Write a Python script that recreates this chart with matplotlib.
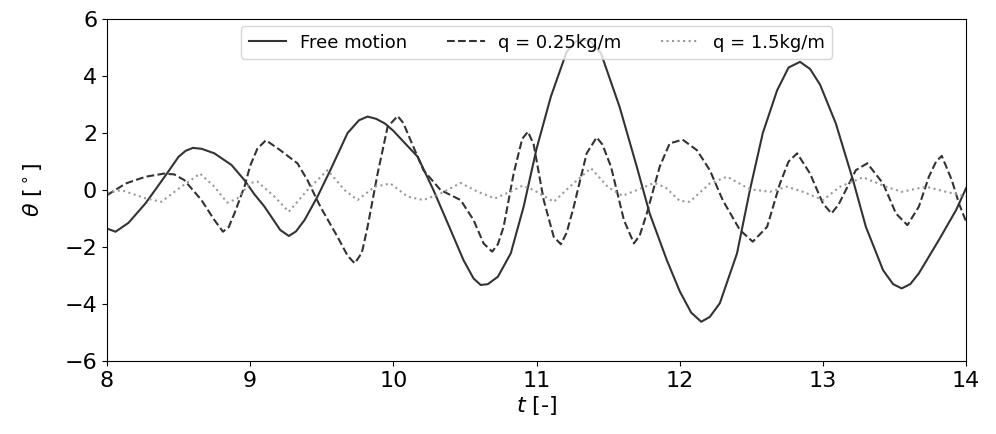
import matplotlib
matplotlib.use("Agg")
import matplotlib.pyplot as plt

# Free motion (solid)
t_free = [8.00, 8.06, 8.15, 8.27, 8.42, 8.50, 8.55, 8.60, 8.66, 8.75, 8.87, 8.96, 9.03, 9.10,
          9.21, 9.27, 9.32, 9.38, 9.47, 9.56, 9.68, 9.76, 9.82, 9.88, 9.94, 10.00,
          10.08, 10.17, 10.28, 10.40, 10.49, 10.56, 10.61, 10.66, 10.73, 10.82,
          10.91, 11.00, 11.10, 11.21, 11.27, 11.32, 11.38, 11.45, 11.58, 11.70,
          11.79, 11.91, 12.00, 12.08, 12.15, 12.21, 12.28, 12.40, 12.49, 12.58,
          12.68, 12.76, 12.84, 12.91, 12.98, 13.09, 13.21, 13.30, 13.42, 13.49,
          13.55, 13.61, 13.67, 13.81, 13.93, 14.00]
th_free = [-1.35, -1.46, -1.15, -0.46, 0.59, 1.17, 1.38, 1.48, 1.45, 1.29, 0.88, 0.35, -0.15, -0.58,
           -1.40, -1.61, -1.45, -1.05, -0.23, 0.70, 2.00, 2.45, 2.58, 2.50, 2.34, 2.08,
           1.65, 1.17, 0.00, -1.40, -2.46, -3.10, -3.33, -3.30, -3.04, -2.22,
           -0.58, 1.45, 3.28, 4.85, 5.20, 5.30, 5.20, 4.80, 2.92, 0.82,
           -0.82, -2.46, -3.55, -4.30, -4.62, -4.45, -3.97, -2.22, 0.00, 2.00,
           3.50, 4.30, 4.50, 4.25, 3.70, 2.34, 0.35, -1.29, -2.81, -3.30,
           -3.45, -3.30, -2.92, -1.75, -0.70, 0.07]

# q = 0.25 kg/m (dashed)
t_q025 = [8.00, 8.13, 8.27, 8.40, 8.47, 8.54, 8.66, 8.75, 8.81, 8.85, 8.89, 8.96,
          9.00, 9.05, 9.11, 9.21, 9.33, 9.40, 9.49, 9.61, 9.68, 9.73, 9.78, 9.82,
          9.89, 9.96, 10.03, 10.07, 10.12, 10.21, 10.33, 10.47, 10.56, 10.63, 10.69,
          10.73, 10.77, 10.84, 10.90, 10.94, 10.98, 11.05, 11.12, 11.17, 11.21,
          11.26, 11.35, 11.42, 11.46, 11.52, 11.61, 11.68, 11.72, 11.77, 11.86,
          11.93, 12.02, 12.12, 12.21, 12.30, 12.42, 12.51, 12.61, 12.70, 12.76,
          12.82, 12.91, 13.00, 13.06, 13.11, 13.16, 13.23, 13.31, 13.42, 13.51,
          13.59, 13.67, 13.74, 13.79, 13.83, 13.90, 13.95, 14.00]
th_q025 = [-0.18, 0.23, 0.47, 0.58, 0.55, 0.35, -0.35, -1.05, -1.46, -1.30, -0.82, 0.12,
           0.85, 1.45, 1.75, 1.40, 0.94, 0.35, -0.58, -1.64, -2.30, -2.57, -2.20, -1.29,
           0.58, 2.22, 2.60, 2.35, 1.75, 0.70, 0.00, -0.35, -1.05, -1.87, -2.16,
           -1.90, -1.29, 0.58, 1.80, 2.05, 1.60, -0.35, -1.64, -1.90, -1.50,
           -0.58, 1.29, 1.85, 1.60, 0.82, -1.05, -1.87, -1.60, -0.82, 0.82,
           1.64, 1.77, 1.40, 0.70, -0.35, -1.40, -1.81, -1.29, 0.23, 1.00,
           1.29, 0.58, -0.47, -0.82, -0.50, 0.00, 0.70, 0.94, 0.23, -0.82,
           -1.23, -0.58, 0.47, 1.00, 1.20, 0.35, -0.47, -1.11]

# q = 1.5 kg/m (dotted)
t_q15 = [8.00, 8.10, 8.27, 8.38, 8.52, 8.65, 8.75, 8.84, 8.91, 9.00, 9.05, 9.17,
         9.27, 9.40, 9.54, 9.66, 9.75, 9.87, 9.98, 10.10, 10.21, 10.33, 10.47,
         10.59, 10.71, 10.82, 10.90, 10.98, 11.12, 11.25, 11.38, 11.50, 11.60,
         11.70, 11.82, 11.90, 12.00, 12.07, 12.21, 12.33, 12.49, 12.63, 12.75,
         12.86, 13.00, 13.12, 13.28, 13.44, 13.55, 13.72, 13.86, 14.00]
th_q15 = [-0.10, 0.00, -0.29, -0.41, 0.12, 0.58, 0.12, -0.44, -0.30, 0.25, 0.30, -0.23,
          -0.76, 0.00, 0.70, 0.00, -0.35, 0.12, 0.23, -0.23, -0.35, -0.12, 0.25,
          -0.06, -0.29, -0.05, 0.15, 0.00, -0.41, 0.20, 0.77, 0.10, -0.20,
          0.00, 0.25, 0.10, -0.38, -0.41, 0.23, 0.47, 0.03, -0.06, 0.12,
          -0.06, -0.35, 0.12, 0.45, 0.12, -0.06, 0.12, -0.06, -0.23]

fig = plt.figure(figsize=(9.96, 4.34), dpi=100)
ax = fig.add_axes([0.1074, 0.168, 0.8626, 0.788])

ax.plot(t_free, th_free, '-', color='#333333', lw=1.5, label='Free motion')
ax.plot(t_q025, th_q025, '--', color='#333333', lw=1.5, label='q = 0.25kg/m')
ax.plot(t_q15, th_q15, ':', color='#999999', lw=1.5, label='q = 1.5kg/m')

ax.set_xlim(8, 14)
ax.set_ylim(-6, 6)
ax.set_xticks(range(8, 15))
ax.set_yticks(range(-6, 7, 2))
ax.tick_params(labelsize=16)
ax.set_xlabel(r'$t$ [-]', fontsize=16, labelpad=2)
ax.set_ylabel(r'$\theta$ [$^\circ$]', fontsize=16, labelpad=14)

ax.legend(loc='upper center', ncol=3, fontsize=13, handlelength=2.1,
          handletextpad=0.75, columnspacing=2.2, borderaxespad=0.4)

fig.savefig('out.png', dpi=100)
